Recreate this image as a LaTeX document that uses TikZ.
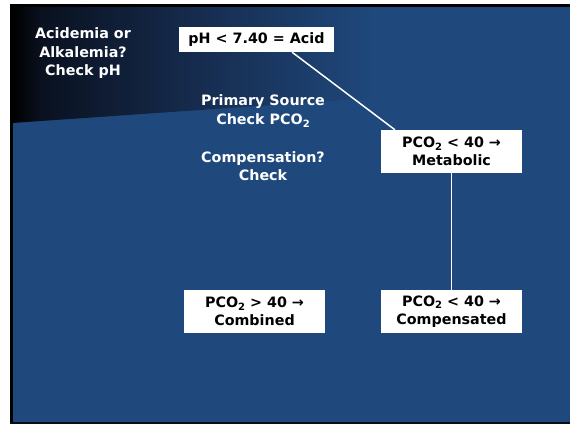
\documentclass[tikz,border=0pt]{standalone}
\usepackage{fontspec}
\setmainfont{DejaVu Sans}
\usetikzlibrary{calc}
\definecolor{bgblue}{HTML}{1F497D}
\definecolor{bandA}{HTML}{0A1120}
\definecolor{bandB}{HTML}{172E52}
\pgfdeclarehorizontalshading{band}{100bp}{color(0bp)=(black); color(25bp)=(black); color(29bp)=(bandA); color(52bp)=(bandB); color(75bp)=(bgblue); color(100bp)=(bgblue)}
\newcommand\subtwo{\raisebox{-0.35ex}{\fontsize{10}{10}\selectfont 2}}
\tikzset{
  lbl/.style={text=white, font=\bfseries\fontsize{14.3}{18.5}\selectfont, align=center, inner sep=0pt},
  box/.style={fill=white, text=black, font=\bfseries\fontsize{14.3}{18.5}\selectfont, align=center, inner sep=0pt, minimum width=141pt, minimum height=43pt},
  conn/.style={white, line width=1.5pt}
}
\begin{document}
\begin{tikzpicture}[x=1pt,y=-1pt]
\useasboundingbox (0,0) rectangle (570,424);
\fill[white] (0,0) rectangle (570,424);
% slide background
\fill[bgblue] (10,4) rectangle (570,424);
\path[shading=band] (12,6) -- (380,6) -- (380,97.6) -- (12,123) -- cycle;
\fill[black] (10,4) rectangle (570,6.5);
\fill[black] (10,4) rectangle (12.5,424);
\fill[black!80!bgblue] (10,421.5) rectangle (570,424);
% labels
\node[lbl] (q1) at (83,53.5) {Acidemia or\\Alkalemia?\\Check pH};
\node[lbl] (q2) at (263,111) {Primary Source\\Check PCO\subtwo};
\node[lbl] (q3) at (263,166) {Compensation?\\Check};
% boxes
\node[box, minimum width=155pt, minimum height=25pt] (acid) at (256.5,39.5) {pH < 7.40 = Acid};
\node[box] (metab) at (451.5,151.5) {PCO\subtwo{} < 40 →\\Metabolic};
\node[box] (comb) at (254.5,311.5) {PCO\subtwo{} > 40 →\\Combined};
\node[box] (comp) at (451.5,311.5) {PCO\subtwo{} < 40 →\\Compensated};
% connectors
\draw[conn] ($(acid.south west)!0.729!(acid.south east)$) -- ($(metab.north west)!0.1!(metab.north east)$);
\draw[conn] (metab.south) -- (comp.north);
\end{tikzpicture}
\end{document}
